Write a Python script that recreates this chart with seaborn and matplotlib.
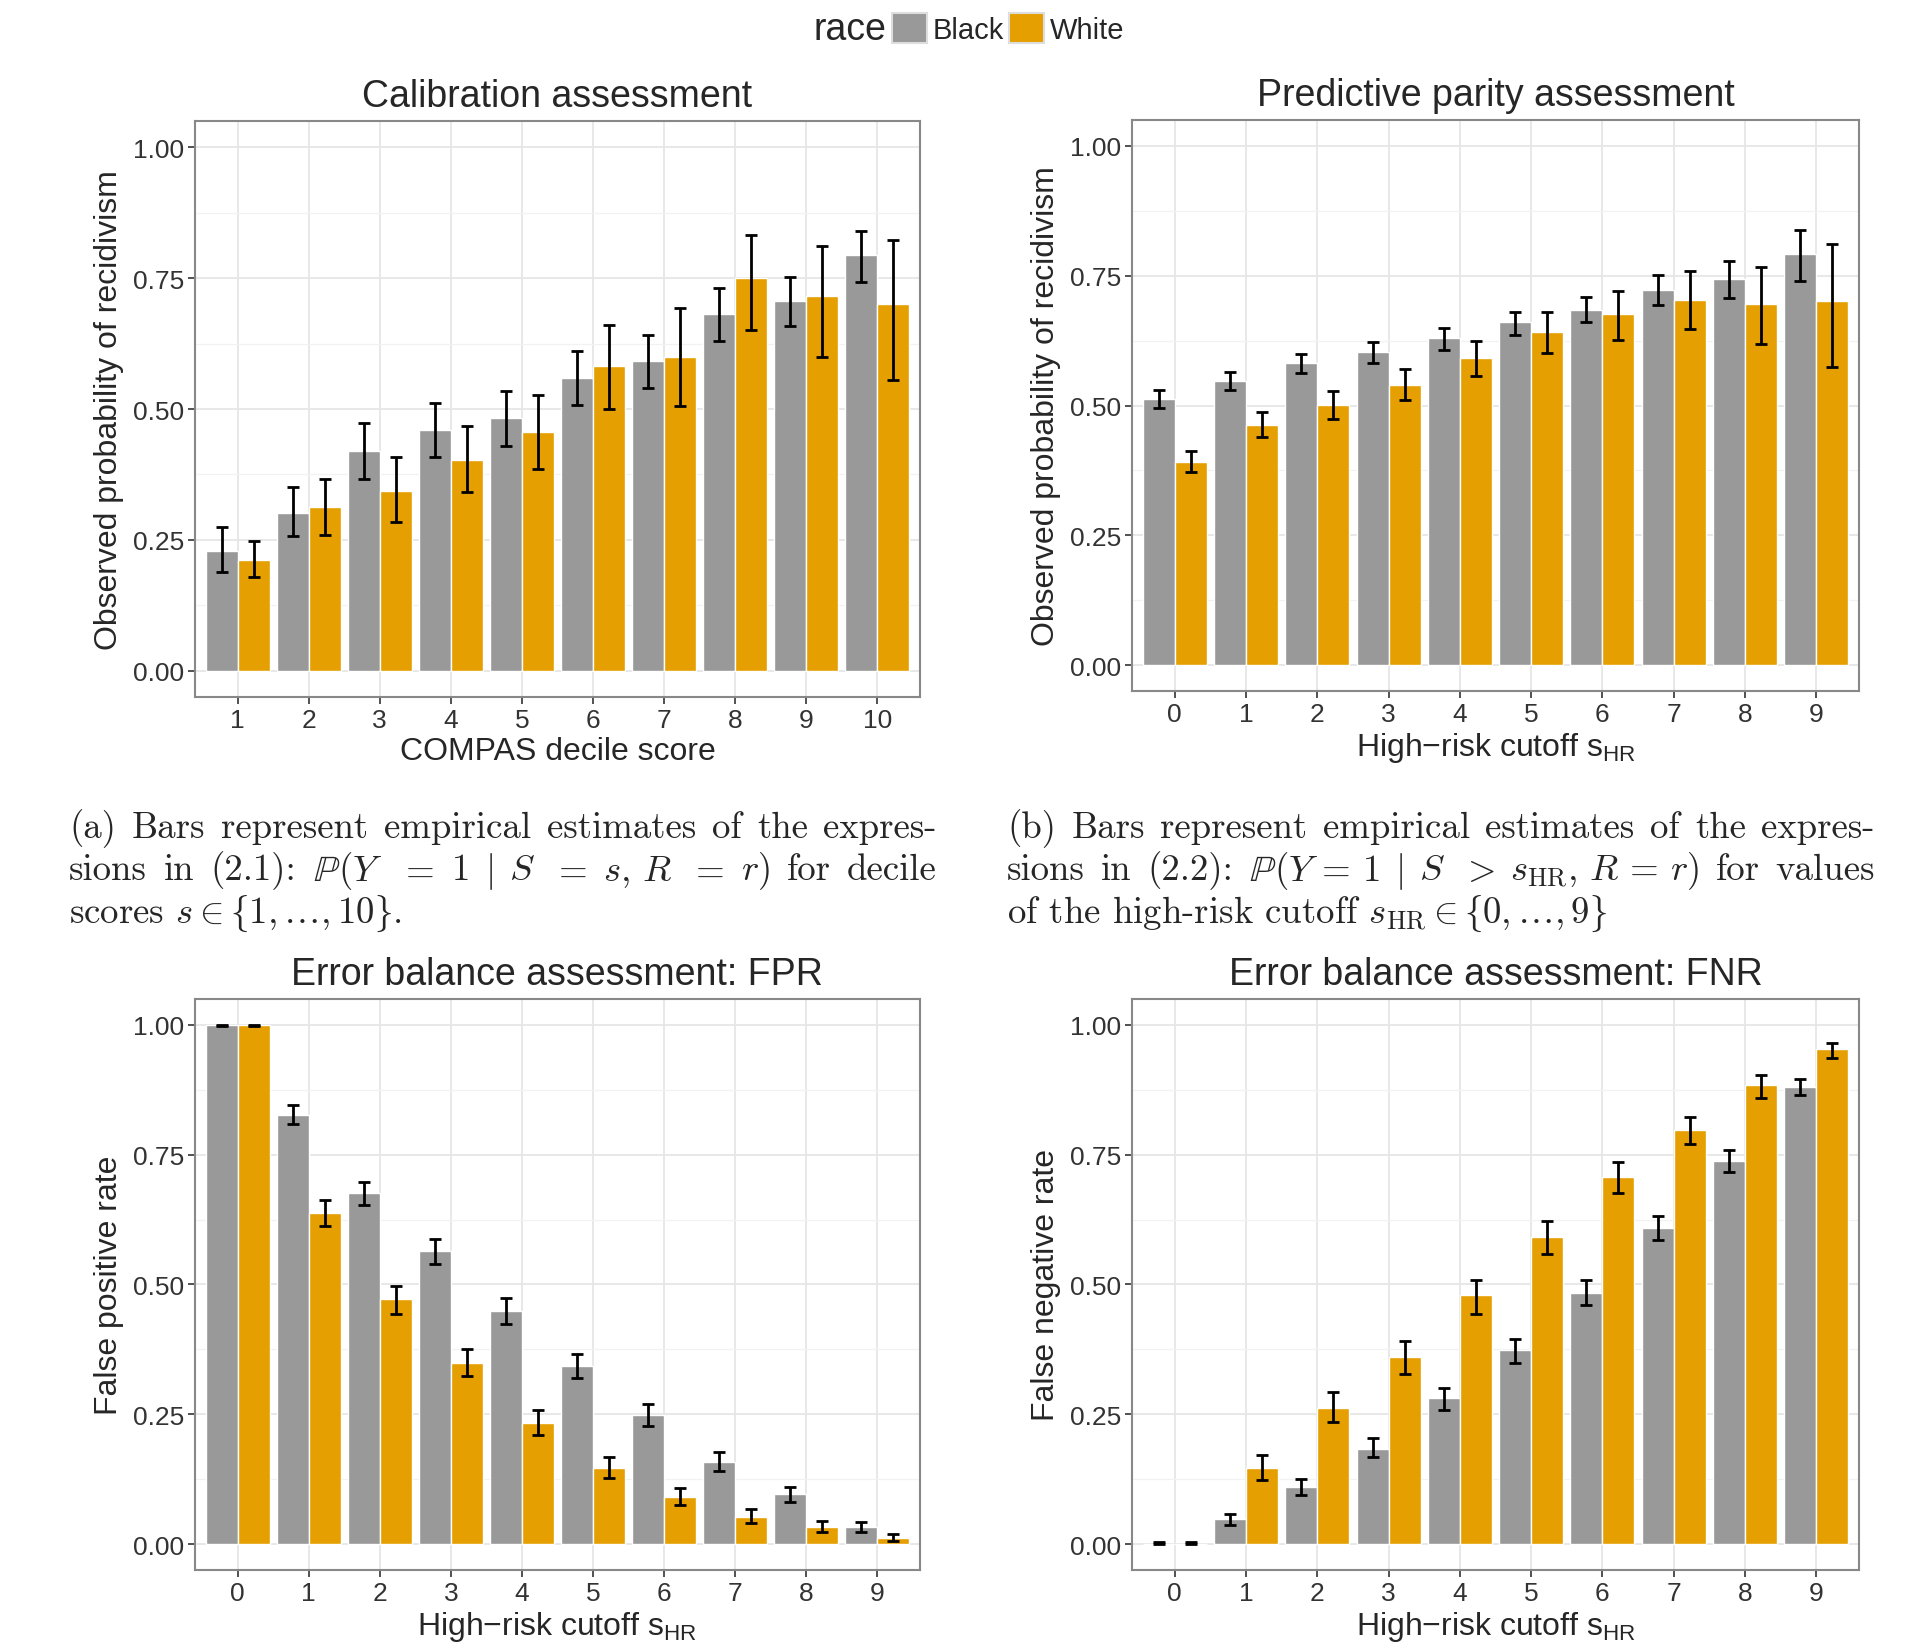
import numpy as np
import pandas as pd
import matplotlib
matplotlib.use("Agg")
import matplotlib.pyplot as plt
from matplotlib.patches import Patch
from matplotlib.ticker import MultipleLocator
import seaborn as sns

# 1. data
races = ['Black', 'White']
colors = {'Black': '#999999', 'White': '#E69F00'}

decile_scores = ['1', '2', '3', '4', '5', '6', '7', '8', '9', '10']
cutoffs = ['0', '1', '2', '3', '4', '5', '6', '7', '8', '9']

# (a) calibration
calib_black = [0.229, 0.302, 0.420, 0.459, 0.483, 0.559, 0.591, 0.682, 0.707, 0.795]
calib_black_lo = [0.188, 0.257, 0.366, 0.409, 0.429, 0.508, 0.541, 0.630, 0.659, 0.742]
calib_black_hi = [0.274, 0.352, 0.473, 0.512, 0.534, 0.610, 0.642, 0.731, 0.752, 0.840]
calib_white = [0.211, 0.312, 0.343, 0.402, 0.456, 0.582, 0.600, 0.750, 0.715, 0.701]
calib_white_lo = [0.179, 0.260, 0.285, 0.341, 0.385, 0.501, 0.505, 0.650, 0.599, 0.555]
calib_white_hi = [0.248, 0.366, 0.409, 0.468, 0.527, 0.660, 0.693, 0.833, 0.812, 0.822]

# (b) predictive parity
ppv_black = [0.513, 0.547, 0.582, 0.603, 0.630, 0.660, 0.684, 0.723, 0.743, 0.791]
ppv_black_lo = [0.495, 0.530, 0.562, 0.582, 0.607, 0.636, 0.660, 0.693, 0.708, 0.740]
ppv_black_hi = [0.530, 0.565, 0.600, 0.622, 0.650, 0.681, 0.710, 0.751, 0.778, 0.839]
ppv_white = [0.391, 0.463, 0.501, 0.540, 0.591, 0.642, 0.676, 0.704, 0.696, 0.702]
ppv_white_lo = [0.372, 0.440, 0.474, 0.511, 0.556, 0.602, 0.627, 0.647, 0.619, 0.574]
ppv_white_hi = [0.413, 0.488, 0.529, 0.571, 0.624, 0.681, 0.720, 0.760, 0.767, 0.811]

# (c) false positive rate
fpr_black = [1.000, 0.827, 0.676, 0.564, 0.448, 0.343, 0.248, 0.158, 0.096, 0.033]
fpr_black_lo = [0.998, 0.809, 0.653, 0.540, 0.424, 0.320, 0.227, 0.140, 0.081, 0.024]
fpr_black_hi = [1.000, 0.846, 0.698, 0.588, 0.473, 0.366, 0.270, 0.177, 0.110, 0.042]
fpr_white = [1.000, 0.637, 0.472, 0.349, 0.233, 0.146, 0.090, 0.053, 0.033, 0.012]
fpr_white_lo = [0.998, 0.613, 0.444, 0.324, 0.210, 0.127, 0.075, 0.041, 0.023, 0.006]
fpr_white_hi = [1.000, 0.662, 0.497, 0.375, 0.258, 0.167, 0.107, 0.067, 0.044, 0.019]

# (d) false negative rate
fnr_black = [0.001, 0.048, 0.110, 0.184, 0.281, 0.373, 0.484, 0.609, 0.738, 0.881]
fnr_black_lo = [0.000, 0.037, 0.095, 0.167, 0.259, 0.348, 0.461, 0.585, 0.717, 0.865]
fnr_black_hi = [0.003, 0.058, 0.125, 0.204, 0.301, 0.395, 0.509, 0.632, 0.759, 0.895]
fnr_white = [0.001, 0.146, 0.263, 0.361, 0.479, 0.591, 0.707, 0.798, 0.884, 0.954]
fnr_white_lo = [0.000, 0.124, 0.235, 0.328, 0.444, 0.558, 0.677, 0.770, 0.860, 0.937]
fnr_white_hi = [0.003, 0.172, 0.293, 0.392, 0.509, 0.623, 0.736, 0.823, 0.903, 0.966]

# captions: pieces per line, gaps between pieces are stretched (last line is not)
cap_a = [['(a)', 'Bars', 'represent', 'empirical', 'estimates', 'of', 'the', 'expres-'],
         ['sions', 'in', '(2.1):', '$\\mathbb{P}(Y$', '$=$', '$1$', '$|$', '$S$', '$=$',
          '$s,\\,R$', '$=$', '$r)$', 'for', 'decile'],
         ['scores $s\\in\\lbrace1,\\ldots,10\\rbrace$.']]
cap_b = [['(b)', 'Bars', 'represent', 'empirical', 'estimates', 'of', 'the', 'expres-'],
         ['sions', 'in', '(2.2):', '$\\mathbb{P}(Y\\,=\\,1$', '$|$', '$S$', '$>$',
          '$s_{\\mathrm{HR}},\\,R\\,=\\,r)$', 'for', 'values'],
         ['of the high-risk cutoff $s_{\\mathrm{HR}}\\in\\lbrace0,\\ldots,9\\rbrace$']]

# 2. style
sns.set_theme(style='white')
plt.rcParams['font.family'] = ['Liberation Sans', 'DejaVu Sans']
plt.rcParams['mathtext.fontset'] = 'custom'
plt.rcParams['mathtext.rm'] = 'Liberation Sans'
plt.rcParams['mathtext.it'] = 'Liberation Sans:italic'

TICK_FS = 19
LABEL_FS = 23
TITLE_FS = 27
SHR = 'High\u2212risk cutoff s$_{\\mathrm{HR}}$'


def draw_panel(ax, cats, black, black_lo, black_hi, white, white_lo, white_hi,
               title, xlabel, ylabel):
    df = pd.DataFrame({
        'x': cats * 2,
        'y': black + white,
        'race': ['Black'] * len(cats) + ['White'] * len(cats),
    })
    sns.barplot(data=df, x='x', y='y', hue='race', order=cats, hue_order=races,
                palette=colors, width=0.9, errorbar=None, saturation=1,
                legend=False, ax=ax, zorder=2)
    lows = {'Black': black_lo, 'White': white_lo}
    highs = {'Black': black_hi, 'White': white_hi}
    vals = {'Black': black, 'White': white}
    for race, cont in zip(races, ax.containers):
        xs = [b.get_x() + b.get_width() / 2 for b in cont]
        v = np.array(vals[race])
        err = [v - np.array(lows[race]), np.array(highs[race]) - v]
        ax.errorbar(xs, v, yerr=err, fmt='none', ecolor='black',
                    elinewidth=2, capsize=4, capthick=2, zorder=3)

    ax.set_xlim(-0.6, len(cats) - 0.4)
    ax.set_ylim(-0.05, 1.05)
    ax.set_yticks([0, 0.25, 0.5, 0.75, 1.0])
    ax.set_yticklabels(['0.00', '0.25', '0.50', '0.75', '1.00'])
    ax.yaxis.set_minor_locator(MultipleLocator(0.125))
    ax.set_axisbelow(True)
    ax.grid(which='major', color='#E6E6E6', linewidth=1.3)
    ax.grid(which='minor', axis='y', color='#F2F2F2', linewidth=0.9)
    ax.tick_params(which='major', length=5, width=1.2, color='#333333',
                   labelsize=TICK_FS, labelcolor='#333333', pad=3,
                   bottom=True, left=True)
    ax.tick_params(which='minor', length=0)
    for s in ax.spines.values():
        s.set_color('#888888')
        s.set_linewidth(1.5)
    ax.set_title(title, fontsize=TITLE_FS, pad=11)
    ax.set_xlabel(xlabel, fontsize=LABEL_FS, labelpad=3)
    ax.set_ylabel(ylabel, fontsize=LABEL_FS, labelpad=6)


def justified_caption(fig, lines, x0, x1, y0, dy, **kw):
    # lay pieces out so every line but the last fills x0..x1 (pixels)
    r = fig.canvas.get_renderer()
    W, H = fig.bbox.width, fig.bbox.height
    for i, words in enumerate(lines):
        y = 1 - (y0 + dy * i) / H
        if i == len(lines) - 1:
            fig.text(x0 / W, y, words[0], **kw)
            continue
        texts = [fig.text(0, y, w, **kw) for w in words]
        widths = [t.get_window_extent(r).width for t in texts]
        gap = (x1 - x0 - sum(widths)) / (len(words) - 1)
        x = x0
        for t, w in zip(texts, widths):
            t.set_x(x / W)
            x += w + gap


# 3. figure
fig = plt.figure(figsize=(19.09, 16.49), dpi=100)
ax_a = fig.add_axes([0.1021, 0.5767, 0.3798, 0.3493])
ax_b = fig.add_axes([0.5930, 0.5803, 0.3808, 0.3463])
ax_c = fig.add_axes([0.1021, 0.0473, 0.3798, 0.3463])
ax_d = fig.add_axes([0.5930, 0.0473, 0.3808, 0.3463])

draw_panel(ax_a, decile_scores, calib_black, calib_black_lo, calib_black_hi,
           calib_white, calib_white_lo, calib_white_hi,
           'Calibration assessment', 'COMPAS decile score',
           'Observed probability of recidivism')
draw_panel(ax_b, cutoffs, ppv_black, ppv_black_lo, ppv_black_hi,
           ppv_white, ppv_white_lo, ppv_white_hi,
           'Predictive parity assessment', SHR,
           'Observed probability of recidivism')
draw_panel(ax_c, cutoffs, fpr_black, fpr_black_lo, fpr_black_hi,
           fpr_white, fpr_white_lo, fpr_white_hi,
           'Error balance assessment: FPR', SHR, 'False positive rate')
draw_panel(ax_d, cutoffs, fnr_black, fnr_black_lo, fnr_black_hi,
           fnr_white, fnr_white_lo, fnr_white_hi,
           'Error balance assessment: FNR', SHR, 'False negative rate')

# legend on top
fig.text(0.4645, 0.982, 'race', fontsize=27, ha='right', va='center')
handles = [Patch(facecolor=colors[r], edgecolor='#DDDDDD', linewidth=1.5) for r in races]
fig.legend(handles, races, loc='center left', bbox_to_anchor=(0.4655, 0.982),
           ncol=2, frameon=False, fontsize=21, handlelength=1.2, handleheight=1.2,
           handletextpad=0.2, columnspacing=0.2, borderpad=0.1, borderaxespad=0)

# captions
cap = dict(fontsize=26.5, family='cmr10', math_fontfamily='cm', ha='left', va='baseline')
justified_caption(fig, cap_a, 69, 937, 838, 42.5, **cap)
justified_caption(fig, cap_b, 1007, 1875, 838, 42.5, **cap)

fig.savefig('out.png', dpi=100)
